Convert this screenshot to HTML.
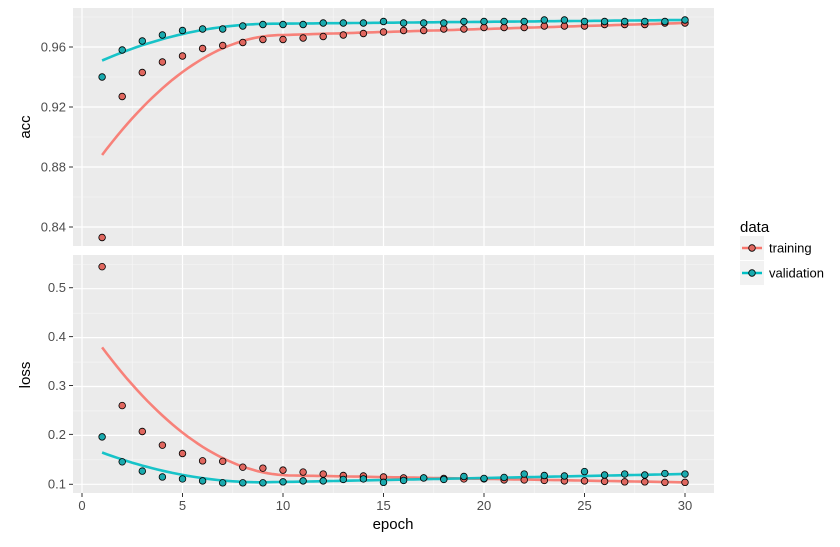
<!DOCTYPE html>
<html><head><meta charset="utf-8"><style>
body{margin:0;background:#fff}
svg text{font-family:"Liberation Sans",sans-serif}
</style></head><body>
<svg id="s" width="840" height="542" xmlns="http://www.w3.org/2000/svg">
<rect x="73" y="8" width="641" height="238" fill="#EBEBEB"/>
<rect x="73" y="255" width="641" height="238" fill="#EBEBEB"/>
<g id="grid"></g>
<g id="data"></g>
<g stroke="#333" stroke-width="1">
<line x1="69" y1="47" x2="73" y2="47"/><line x1="69" y1="107" x2="73" y2="107"/><line x1="69" y1="167" x2="73" y2="167"/><line x1="69" y1="227" x2="73" y2="227"/>
<line x1="69" y1="287.7" x2="73" y2="287.7"/><line x1="69" y1="336.6" x2="73" y2="336.6"/><line x1="69" y1="385.5" x2="73" y2="385.5"/><line x1="69" y1="434.4" x2="73" y2="434.4"/><line x1="69" y1="484.3" x2="73" y2="484.3"/>
<line x1="82" y1="493" x2="82" y2="497"/><line x1="182.5" y1="493" x2="182.5" y2="497"/><line x1="283" y1="493" x2="283" y2="497"/><line x1="383.5" y1="493" x2="383.5" y2="497"/><line x1="484" y1="493" x2="484" y2="497"/><line x1="584.5" y1="493" x2="584.5" y2="497"/><line x1="685" y1="493" x2="685" y2="497"/>
</g>
<g font-size="13" fill="#4D4D4D" text-anchor="end">
<text x="66" y="51.5">0.96</text><text x="66" y="111.5">0.92</text><text x="66" y="171.5">0.88</text><text x="66" y="231.5">0.84</text>
<text x="66" y="292">0.5</text><text x="66" y="341">0.4</text><text x="66" y="390">0.3</text><text x="66" y="439">0.2</text><text x="66" y="488.5">0.1</text>
</g>
<g font-size="13" fill="#4D4D4D" text-anchor="middle">
<text x="82" y="510">0</text><text x="182.5" y="510">5</text><text x="283" y="510">10</text><text x="383.5" y="510">15</text><text x="484" y="510">20</text><text x="584.5" y="510">25</text><text x="685" y="510">30</text>
</g>
<text x="393" y="529" font-size="15" text-anchor="middle" fill="#000">epoch</text>
<text transform="translate(30,127) rotate(-90)" font-size="15" text-anchor="middle">acc</text>
<text transform="translate(30,375) rotate(-90)" font-size="15" text-anchor="middle">loss</text>
<text x="740" y="232" font-size="15">data</text>
<rect x="740" y="236" width="24" height="24" fill="#F2F2F2"/>
<rect x="740" y="261" width="24" height="24" fill="#F2F2F2"/>
<line x1="742" y1="248" x2="762" y2="248" stroke="#F8766D" stroke-width="2.5"/>
<circle cx="752" cy="248" r="3.3" fill="#E0675F" stroke="#000" stroke-width="0.8"/>
<line x1="742" y1="273" x2="762" y2="273" stroke="#00BFC4" stroke-width="2.5"/>
<circle cx="752" cy="273" r="3.3" fill="#1AAAAE" stroke="#000" stroke-width="0.8"/>
<text x="769" y="252.5" font-size="13" fill="#000">training</text>
<text x="769" y="277.5" font-size="13" fill="#000">validation</text>
</svg>
<script>
var NS="http://www.w3.org/2000/svg";
function X(e){return 82+e*20.1;}
function YA(v){return 47+(0.96-v)*1500;}
function YL(v){return 484.3-(v-0.1)*489;}
var g=document.getElementById("grid"),d=document.getElementById("data");
function ln(p,x1,y1,x2,y2,w,c){var l=document.createElementNS(NS,"line");l.setAttribute("x1",x1);l.setAttribute("y1",y1);l.setAttribute("x2",x2);l.setAttribute("y2",y2);l.setAttribute("stroke",c);l.setAttribute("stroke-width",w);p.appendChild(l);}
[[8,246],[255,493]].forEach(function(r){
 for(var e=2.5;e<=32;e+=5)ln(g,X(e),r[0],X(e),r[1],0.6,"#F7F7F7");
 for(var e=0;e<=30;e+=5)ln(g,X(e),r[0],X(e),r[1],1.2,"#fff");
});
[0.82,0.86,0.90,0.94,0.98].forEach(function(v){var y=YA(v);if(y>8&&y<246)ln(g,73,y,714,y,0.6,"#F7F7F7");});
[0.84,0.88,0.92,0.96].forEach(function(v){ln(g,73,YA(v),714,YA(v),1.2,"#fff");});
[0.15,0.25,0.35,0.45,0.55].forEach(function(v){var y=YL(v);if(y>255&&y<493)ln(g,73,y,714,y,0.6,"#F7F7F7");});
[0.1,0.2,0.3,0.4,0.5].forEach(function(v){ln(g,73,YL(v),714,YL(v),1.2,"#fff");});
function smooth(a,b,c,knot){
 return function(e){if(e<=knot){var t=(knot-e)/(knot-1);return b+(a-b)*t*t;}return b+(c-b)*(e-knot)/(30-knot);};
}
function path(f,Y,col){var s="";for(var e=1;e<=30;e+=0.25){s+=(s?"L":"M")+X(e).toFixed(1)+","+Y(f(e)).toFixed(1);}var p=document.createElementNS(NS,"path");p.setAttribute("d",s);p.setAttribute("fill","none");p.setAttribute("stroke",col);p.setAttribute("stroke-width",2.6);p.setAttribute("opacity",0.9);d.appendChild(p);}
function pts(a,Y,col){a.forEach(function(v,i){var c=document.createElementNS(NS,"circle");c.setAttribute("cx",X(i+1));c.setAttribute("cy",Y(v));c.setAttribute("r",3.3);c.setAttribute("fill",col);c.setAttribute("stroke","#000");c.setAttribute("stroke-width",0.8);d.appendChild(c);});}
var R="#F8766D",B="#00BFC4",RP="#E0675F",BP="#1AAAAE";
var ta=[0.833,0.927,0.943,0.950,0.954,0.959,0.961,0.963,0.965,0.965,0.966,0.967,0.968,0.969,0.970,0.971,0.971,0.972,0.972,0.973,0.973,0.973,0.974,0.974,0.974,0.975,0.975,0.975,0.976,0.976];
var va=[0.940,0.958,0.964,0.968,0.971,0.972,0.972,0.974,0.975,0.975,0.975,0.976,0.976,0.976,0.977,0.976,0.976,0.976,0.977,0.977,0.977,0.977,0.978,0.978,0.977,0.977,0.977,0.977,0.977,0.978];
var tl=[0.545,0.261,0.208,0.180,0.163,0.148,0.147,0.135,0.133,0.129,0.125,0.121,0.118,0.117,0.115,0.113,0.113,0.112,0.111,0.111,0.109,0.109,0.108,0.107,0.107,0.106,0.105,0.105,0.104,0.104];
var vl=[0.197,0.146,0.127,0.115,0.111,0.107,0.103,0.103,0.103,0.105,0.107,0.107,0.110,0.111,0.104,0.108,0.113,0.110,0.116,0.112,0.114,0.121,0.118,0.117,0.126,0.119,0.121,0.119,0.122,0.121];
path(smooth(0.888,0.968,0.976,10),YA,R);
path(smooth(0.951,0.9755,0.978,9.5),YA,B);
path(smooth(0.380,0.118,0.104,10.5),YL,R);
path(smooth(0.165,0.104,0.121,9),YL,B);
pts(ta,YA,RP);pts(va,YA,BP);pts(tl,YL,RP);pts(vl,YL,BP);
</script>
</body></html>
